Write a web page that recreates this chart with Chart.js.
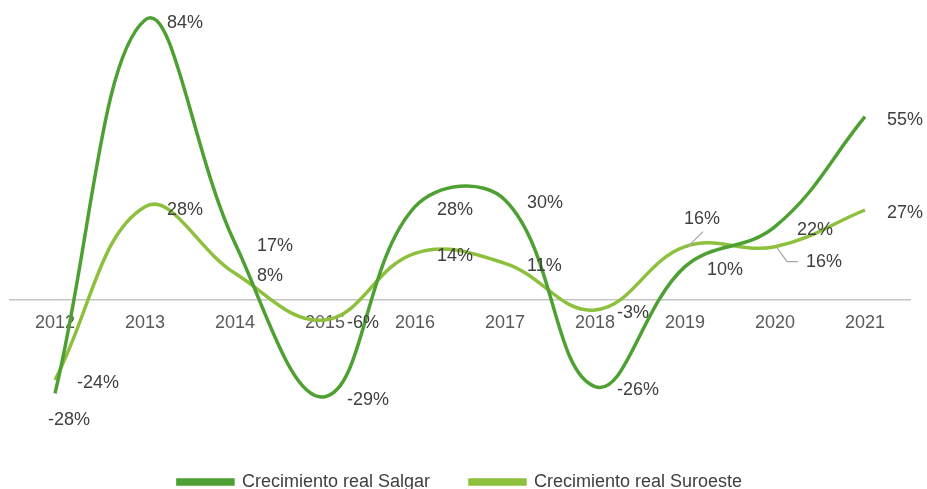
<!DOCTYPE html>
<html>
<head>
<meta charset="utf-8">
<script src="https://cdn.jsdelivr.net/npm/chart.js@4"></script>
<style>
  html, body { margin: 0; padding: 0; background: #ffffff; }
  #wrap { width: 927px; height: 489px; }
</style>
</head>
<body>
<div id="wrap"><canvas id="c" width="927" height="489"></canvas></div>
<script>
const categories = ['2012','2013','2014','2015','2016','2017','2018','2019','2020','2021'];
const salgar   = [-28, 84, 17, -29, 28, 30, -26, 10, 22, 55];
const suroeste = [-24, 28, 8, -6, 14, 11, -3, 16, 16, 27];
const seriesNames = ['Crecimiento real Salgar', 'Crecimiento real Suroeste'];

// label placement per point (style only)
const salgarPlace   = ['below','right','right','right','right','right','right','right','right','right'];
const suroestePlace = ['right','right','right','right','right','right','right','leaderUp','leaderDown','right'];

const DARK = '#4EA032';
const LIGHT = '#8DC03C';
const FONT = "'Liberation Sans', Arial, sans-serif";

const labelPlugin = {
  id: 'pctLabels',
  afterDatasetsDraw(chart) {
    const ctx = chart.ctx;
    ctx.save();
    ctx.font = '18px ' + FONT;
    ctx.fillStyle = '#404040';
    ctx.textBaseline = 'middle';
    const places = [salgarPlace, suroestePlace];
    chart.data.datasets.forEach((ds, di) => {
      const meta = chart.getDatasetMeta(di);
      meta.data.forEach((pt, i) => {
        const txt = ds.data[i] + '%';
        const p = places[di][i];
        const x = pt.x, y = pt.y;
        if (p === 'right') {
          ctx.textAlign = 'left';
          ctx.fillText(txt, x + 22, y + 3);
        } else if (p === 'below') {
          ctx.textAlign = 'center';
          ctx.fillText(txt, x + 14, y + 27);
        } else if (p === 'leaderUp') {
          ctx.strokeStyle = '#A6A6A6';
          ctx.lineWidth = 1.2;
          ctx.beginPath();
          ctx.moveTo(x + 2, y + 1);
          ctx.lineTo(x + 18, y - 15);
          ctx.stroke();
          ctx.textAlign = 'center';
          ctx.fillText(txt, x + 17, y - 28);
        } else if (p === 'leaderDown') {
          ctx.strokeStyle = '#A6A6A6';
          ctx.lineWidth = 1.2;
          ctx.beginPath();
          ctx.moveTo(x + 2, y + 1);
          ctx.lineTo(x + 12, y + 15);
          ctx.lineTo(x + 23, y + 15);
          ctx.stroke();
          ctx.textAlign = 'left';
          ctx.fillText(txt, x + 31, y + 15);
        }
      });
    });
    ctx.restore();
  }
};

new Chart(document.getElementById('c'), {
  type: 'line',
  data: {
    labels: categories,
    datasets: [
      { label: seriesNames[0], data: salgar, borderColor: DARK, backgroundColor: DARK, borderWidth: 3.5, pointRadius: 0, tension: 0.4, fill: false },
      { label: seriesNames[1], data: suroeste, borderColor: LIGHT, backgroundColor: LIGHT, borderWidth: 3.5, pointRadius: 0, tension: 0.4, fill: false }
    ]
  },
  options: {
    responsive: false,
    animation: false,
    devicePixelRatio: 1,
    layout: { padding: { top: 5, left: 10, right: 17, bottom: -12 } },
    elements: { line: { capBezierPoints: false } },
    plugins: {
      legend: {
        position: 'bottom',
        labels: {
          boxWidth: 55,
          boxHeight: 4,
          padding: 40,
          color: '#404040',
          font: { family: FONT, size: 18 }
        }
      },
      tooltip: { enabled: false }
    },
    scales: {
      x: {
        type: 'category',
        offset: true,
        position: { y: 0 },
        grid: { display: false, drawTicks: false },
        border: { display: true, color: '#C4C4C4', width: 1.5 },
        ticks: { color: '#595959', font: { family: FONT, size: 18 }, padding: 12, maxRotation: 0, autoSkip: false }
      },
      y: {
        display: false,
        min: -39.9,
        max: 88.5
      }
    }
  },
  plugins: [labelPlugin]
});
</script>
</body>
</html>
